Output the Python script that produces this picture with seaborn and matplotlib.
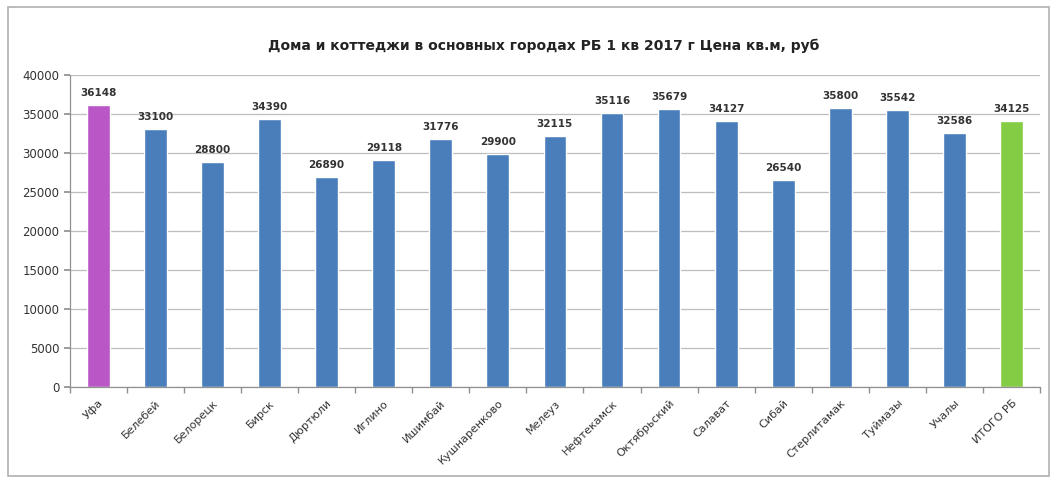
import matplotlib
matplotlib.use("Agg")
import matplotlib.pyplot as plt
import seaborn as sns
import pandas as pd
from matplotlib.patches import Rectangle

cities = ["Уфа", "Белебей", "Белорецк", "Бирск", "Дюртюли", "Иглино", "Ишимбай",
          "Кушнаренково", "Мелеуз", "Нефтекамск", "Октябрьский", "Салават", "Сибай",
          "Стерлитамак", "Туймазы", "Учалы", "ИТОГО РБ"]
prices = [36148, 33100, 28800, 34390, 26890, 29118, 31776, 29900, 32115, 35116,
          35679, 34127, 26540, 35800, 35542, 32586, 34125]
bar_colors = ["#b957c6"] + ["#4a7ebb"] * 15 + ["#84cc44"]

df = pd.DataFrame({"city": cities, "price": prices})

sns.set_theme(style="white")
plt.rcParams["font.family"] = ["DejaVu Sans"]

fig = plt.figure(figsize=(10.57, 4.86), dpi=100)
ax = fig.add_axes([0.066, 0.204, 0.918, 0.642])

sns.barplot(data=df, x="city", y="price", hue="city", palette=bar_colors,
            legend=False, width=0.4, ax=ax, saturation=1)

ax.set_ylim(0, 40000)
ax.set_xlim(-0.5, len(cities) - 0.5)
ax.set_yticks(range(0, 40001, 5000))
ax.yaxis.grid(True, color="#bdbdbd", linewidth=0.9)
ax.set_axisbelow(True)
ax.set_xlabel("")
ax.set_ylabel("")
for side in ["top", "right"]:
    ax.spines[side].set_visible(False)
for side in ["left", "bottom"]:
    ax.spines[side].set_color("#909090")
    ax.spines[side].set_linewidth(0.9)

ax.tick_params(axis="y", labelsize=8.5, colors="#333333", length=4, color="#909090",
               left=True, direction="out")
ax.set_xticks(range(len(cities)))
ax.set_xticklabels(cities, rotation=45, ha="right", rotation_mode="anchor",
                   fontsize=8, color="#333333")
ax.tick_params(axis="x", length=0, pad=8)
# minor ticks between categories on the axis
ax.set_xticks([i + 0.5 for i in range(-1, len(cities))], minor=True)
ax.tick_params(axis="x", which="minor", length=4, color="#909090", bottom=True)

for i, v in enumerate(prices):
    ax.text(i, v + 900, str(v), ha="center", va="bottom", fontsize=7.5,
            fontweight="bold", color="#333333")

fig.text(0.514, 0.905, "Дома и коттеджи в основных городах РБ 1 кв 2017 г Цена кв.м, руб",
         ha="center", va="center", fontsize=10, fontweight="bold", color="#222222")

fig.patches.append(Rectangle((0.008, 0.02), 0.984, 0.965, transform=fig.transFigure,
                             fill=False, edgecolor="#b0b0b0", linewidth=1.2))

fig.savefig("out.png", dpi=100, facecolor="white")
